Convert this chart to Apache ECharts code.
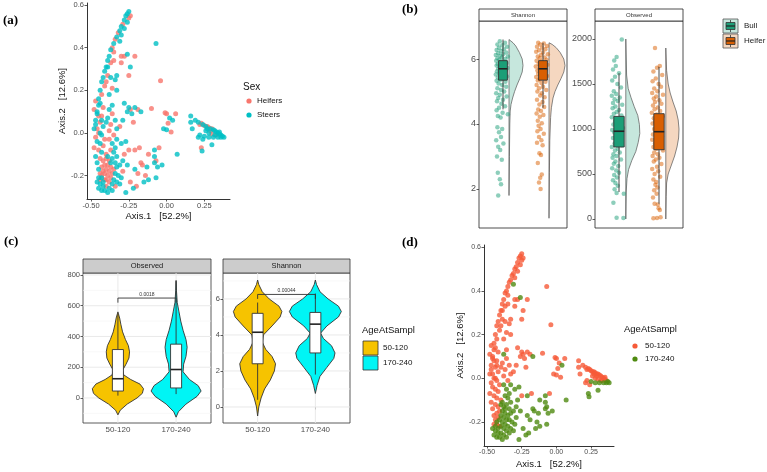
<!DOCTYPE html>
<html lang="en">
<head>
  <meta charset="UTF-8">
  <title>Microbiome diversity panels</title>
  <script src="https://cdn.jsdelivr.net/npm/echarts@6.0.0/dist/echarts.min.js"></script>
  <style>
    body { margin: 0; background: #fff; }
    #chart { width: 767px; height: 472px; }
  </style>
</head>
<body>
  <div id="chart"></div>
  <script>
    // ---- data ----
    const sexNames = ['Heifers', 'Steers']
    const ageGroups = ['50-120', '170-240']
    const cattleTypes = ['Bull', 'Heifer']

    // PCoA samples: [Axis.1, Axis.2, sex index, age index] (same ordination in (a) and (d))
    const pcoa = [
      [-0.25,0.57,1,0],[-0.26,0.56,1,0],[-0.24,0.55,0,0],[-0.27,0.55,1,0],[-0.25,0.54,0,0],[-0.28,0.53,1,0],
      [-0.26,0.52,1,0],[-0.29,0.51,0,0],[-0.30,0.50,1,0],[-0.28,0.49,1,0],[-0.31,0.48,1,0],[-0.32,0.47,0,0],
      [-0.30,0.46,1,0],[-0.33,0.45,1,0],[-0.34,0.44,0,0],[-0.31,0.43,1,1],[-0.35,0.42,1,0],[-0.36,0.40,0,0],
      [-0.37,0.39,1,0],[-0.35,0.38,0,0],[-0.38,0.36,1,0],[-0.39,0.34,1,0],[-0.37,0.33,0,0],[-0.40,0.31,1,0],
      [-0.41,0.29,1,0],[-0.39,0.27,0,0],[-0.42,0.26,1,0],[-0.43,0.24,1,0],[-0.41,0.22,0,0],[-0.44,0.20,1,0],
      [-0.43,0.18,0,0],[-0.45,0.16,1,0],[-0.44,0.14,1,0],[-0.42,0.12,0,0],[-0.46,0.10,1,0],[-0.45,0.08,0,0],
      [-0.43,0.06,1,0],[-0.47,0.04,1,0],[-0.46,0.02,0,0],[-0.44,0.00,1,0],
      [-0.35,0.34,0,0],[-0.30,0.36,0,0],[-0.28,0.36,0,0],[-0.26,0.37,1,1],[-0.21,0.36,0,0],[-0.30,0.33,0,0],
      [-0.24,0.31,1,0],[-0.25,0.27,0,0],[-0.07,0.42,1,0],[-0.04,0.245,0,0],[-0.39,0.31,1,0],[-0.37,0.26,1,0],
      [-0.34,0.25,1,0],[-0.33,0.27,1,0],[-0.40,0.24,0,0],[-0.36,0.21,0,0],[-0.33,0.20,1,0],[-0.38,0.18,1,0],
      [-0.47,0.15,0,0],[-0.45,0.13,1,0],[-0.48,0.11,0,0],[-0.46,0.09,1,0],[-0.43,0.08,0,0],[-0.47,0.06,1,0],
      [-0.44,0.05,0,0],[-0.42,0.03,1,0],[-0.48,0.02,1,0],[-0.45,0.00,0,0],[-0.43,-0.01,1,0],[-0.47,-0.02,0,0],
      [-0.41,-0.03,0,0],[-0.46,-0.04,1,0],[-0.44,-0.05,1,0],[-0.42,-0.06,0,0],[-0.48,-0.07,0,0],[-0.45,-0.08,0,0],
      [-0.43,-0.09,1,0],[-0.40,-0.10,0,0],[-0.47,-0.11,1,0],[-0.44,-0.12,0,0],[-0.42,-0.13,0,0],[-0.46,-0.14,1,0],
      [-0.41,-0.15,0,0],[-0.43,-0.16,0,0],[-0.45,-0.17,1,0],[-0.42,-0.18,0,0],[-0.44,-0.19,0,0],[-0.43,-0.21,1,0],
      [-0.41,-0.22,0,0],
      [-0.38,0.11,1,1],[-0.36,0.09,0,0],[-0.39,0.07,1,0],[-0.34,0.06,1,0],[-0.37,0.04,0,0],[-0.33,0.02,1,0],
      [-0.38,0.01,0,0],[-0.35,-0.01,0,0],[-0.40,0.05,1,0],[-0.36,0.13,1,0],
      [-0.28,0.14,1,0],[-0.25,0.12,1,0],[-0.21,0.12,1,0],[-0.26,0.10,1,0],[-0.23,0.09,1,0],[-0.17,0.10,1,1],
      [-0.19,0.11,0,0],[-0.24,0.11,0,0],[-0.10,0.115,0,0],[-0.22,0.05,0,0],[-0.29,0.06,1,0],[-0.31,0.03,0,0],
      [-0.02,0.02,1,0],[0.00,0.09,0,0],[0.02,0.07,1,0],[0.04,0.06,1,1],[0.06,0.09,0,0],[0.01,0.045,0,0],
      [0.00,0.015,1,0],[0.03,0.005,0,0],[-0.01,0.095,0,0],
      [0.16,0.08,1,0],[0.16,0.05,1,0],[0.17,0.02,1,0],[0.19,0.06,1,0],[0.21,0.05,1,0],[0.22,0.04,0,0],
      [0.23,0.045,0,0],[0.24,0.04,1,0],[0.25,0.035,0,0],[0.26,0.03,1,0],[0.27,0.03,0,0],[0.28,0.025,0,0],
      [0.29,0.02,1,0],[0.30,0.02,0,0],[0.31,0.015,1,0],[0.32,0.01,1,0],[0.33,0.005,1,0],[0.34,0.0,1,0],
      [0.35,-0.005,1,0],[0.36,-0.01,1,0],[0.37,-0.015,1,1],[0.26,0.01,1,0],[0.28,0.0,1,0],[0.30,-0.005,0,0],
      [0.32,-0.01,1,0],[0.34,-0.02,1,1],[0.36,-0.02,1,1],[0.31,-0.02,1,1],[0.28,-0.02,1,1],[0.25,-0.015,1,1],
      [0.22,-0.01,1,0],[0.21,-0.02,1,0],[0.24,-0.03,1,0],[0.29,0.01,0,0],[0.33,-0.01,0,0],[0.27,0.02,1,0],
      [0.35,0.005,1,0],[0.38,-0.02,1,1],[0.23,-0.07,0,1],[0.235,-0.085,1,1],[0.30,-0.055,1,1],[0.07,-0.10,1,1],
      [-0.30,-0.05,1,1],[-0.27,-0.04,1,1],[-0.21,-0.08,0,1],[-0.18,-0.07,0,0],[-0.08,-0.08,1,1],[-0.08,-0.11,1,1],
      [-0.07,-0.13,0,1],[-0.08,-0.14,1,1],[-0.17,-0.14,0,1],[-0.16,-0.15,0,1],[-0.13,-0.16,1,1],[-0.03,-0.15,1,1],
      [-0.06,-0.16,1,1],[-0.29,-0.13,1,1],[-0.26,-0.15,1,1],[-0.21,-0.17,1,1],[-0.19,-0.19,0,1],[-0.07,-0.21,1,1],
      [-0.12,-0.22,1,1],[-0.15,-0.23,1,1],[-0.20,-0.25,0,1],[-0.22,-0.26,1,1],[-0.27,-0.28,1,1],[-0.24,-0.23,0,1],
      [-0.14,-0.20,0,1],[-0.05,-0.07,0,0],[-0.12,-0.10,0,1],[-0.25,-0.08,0,0],[-0.33,-0.03,1,1],[-0.28,-0.10,0,1],
      [-0.40,-0.12,0,1],[-0.38,-0.13,0,1],[-0.36,-0.12,1,1],[-0.34,-0.14,1,1],[-0.39,-0.15,0,1],[-0.37,-0.16,0,1],
      [-0.35,-0.17,0,1],[-0.33,-0.16,1,1],[-0.40,-0.17,0,1],[-0.38,-0.18,0,1],[-0.36,-0.19,0,1],[-0.34,-0.19,1,1],
      [-0.32,-0.20,1,1],[-0.41,-0.19,0,1],[-0.39,-0.20,0,1],[-0.37,-0.21,0,1],[-0.35,-0.22,1,1],[-0.33,-0.23,1,1],
      [-0.42,-0.23,1,1],[-0.40,-0.22,0,1],[-0.38,-0.23,0,1],[-0.36,-0.24,1,1],[-0.44,-0.24,1,1],[-0.42,-0.25,1,1],
      [-0.40,-0.25,0,1],[-0.38,-0.26,1,1],[-0.45,-0.26,1,1],[-0.43,-0.27,1,1],[-0.41,-0.27,1,1],[-0.44,-0.22,0,1],
      [-0.46,-0.23,1,1],[-0.39,-0.28,1,1],[-0.36,-0.27,1,1],[-0.34,-0.25,0,1],[-0.31,-0.24,1,1],[-0.30,-0.21,1,1],
      [-0.37,-0.14,1,1],[-0.35,-0.09,1,1],[-0.37,-0.08,0,1],[-0.39,-0.11,1,1],[-0.33,-0.11,1,1],[-0.31,-0.15,1,1],
      [-0.29,-0.18,0,1],[-0.43,-0.20,0,1],[-0.45,-0.21,1,0],[-0.36,-0.05,1,1],[-0.38,-0.03,0,1],[-0.34,-0.07,1,1]
    ]
    const pcoaXTicks = [-0.5, -0.25, 0, 0.25]
    const pcoaYTicks = [-0.2, 0, 0.2, 0.4, 0.6]

    // (b) jittered samples [x position, value]
    const shannonBull = [
      [0.92,6.55],[1.05,6.5],[0.86,6.45],[0.98,6.42],[1.10,6.38],[0.90,6.35],[1.02,6.3],[0.84,6.28],[0.95,6.25],
      [1.08,6.2],[0.88,6.18],[1.00,6.15],[0.82,6.12],[0.93,6.1],[1.12,6.08],[0.97,6.05],[0.86,6.02],[1.06,6.0],
      [0.91,5.98],[0.83,5.95],[1.03,5.92],[0.95,5.9],[1.09,5.88],[0.87,5.85],[0.99,5.82],[0.84,5.8],[1.04,5.78],
      [0.92,5.75],[1.11,5.72],[0.88,5.7],[0.96,5.68],[1.07,5.65],[0.85,5.62],[1.00,5.6],[0.90,5.57],[1.05,5.55],
      [0.82,5.52],[0.94,5.5],[1.10,5.46],[0.87,5.43],[1.01,5.4],[0.93,5.36],[0.84,5.33],[1.06,5.3],[0.89,5.25],
      [0.98,5.2],[1.08,5.15],[0.86,5.1],[0.95,5.05],[1.03,5.0],[0.83,4.95],[0.92,4.9],[1.09,4.85],[0.88,4.8],
      [1.00,4.75],[0.85,4.7],[0.96,4.62],[1.05,4.55],[0.90,4.5],[0.84,4.42],[0.99,4.35],[1.12,4.3],[0.87,4.25],
      [0.94,4.2],[0.86,3.9],[0.98,3.85],[0.90,3.75],[0.95,3.6],[0.83,3.5],[1.01,3.4],[0.88,3.3],[0.93,3.2],
      [0.85,3.0],[0.97,2.9],[0.87,2.5],[0.92,2.3],[0.95,2.15],[0.88,1.8]
    ]
    const shannonHeifer = [
      [1.88,6.5],[2.02,6.48],[1.93,6.45],[2.10,6.4],[1.85,6.38],[1.98,6.35],[2.06,6.3],[1.90,6.27],[1.83,6.22],
      [2.00,6.2],[2.12,6.15],[1.95,6.12],[1.87,6.08],[2.04,6.05],[1.92,6.02],[2.09,5.98],[1.84,5.95],[1.97,5.92],
      [2.03,5.88],[1.89,5.85],[2.11,5.82],[1.94,5.8],[1.82,5.77],[2.01,5.74],[1.91,5.7],[2.07,5.68],[1.86,5.65],
      [1.99,5.62],[2.05,5.58],[1.88,5.55],[1.95,5.52],[2.10,5.48],[1.83,5.45],[2.02,5.42],[1.92,5.38],[1.87,5.34],
      [2.06,5.3],[1.96,5.26],[1.84,5.2],[2.00,5.15],[1.90,5.1],[2.08,5.05],[1.86,5.0],[1.97,4.95],[1.93,4.88],
      [2.04,4.82],[1.85,4.75],[1.99,4.68],[1.91,4.6],[2.03,4.52],[1.88,4.45],[1.95,4.4],[1.84,4.32],[2.01,4.28],
      [1.92,4.22],[1.87,4.1],[1.97,4.02],[1.89,3.95],[1.94,3.85],[1.86,3.78],[2.02,3.7],[1.90,3.6],[1.96,3.5],
      [1.85,3.42],[1.99,3.35],[1.91,3.1],[1.95,3.05],[1.87,2.8],[1.97,2.45],[1.93,2.35],[1.90,2.2],[1.94,2.0]
    ]
    const observedBull = [
      [1.07,1995],[0.94,1800],[0.88,1760],[0.92,1700],[0.85,1660],[1.00,1620],[0.90,1580],[0.83,1540],[0.96,1500],
      [1.05,1460],[0.87,1420],[0.93,1390],[0.82,1370],[1.02,1350],[0.89,1330],[0.97,1310],[0.85,1290],[1.08,1270],
      [0.91,1250],[0.84,1230],[1.00,1210],[0.94,1190],[0.87,1170],[1.06,1150],[0.82,1130],[0.96,1110],[0.90,1090],
      [1.03,1070],[0.86,1050],[0.93,1030],[1.10,1010],[0.83,990],[0.99,975],[0.88,960],[1.04,940],[0.92,920],
      [0.85,900],[1.01,880],[0.95,860],[0.89,840],[1.07,820],[0.82,800],[0.97,780],[0.90,760],[1.02,740],
      [0.86,720],[0.94,700],[0.84,680],[1.05,660],[0.91,640],[0.87,615],[0.98,590],[0.83,565],[0.93,540],
      [1.00,515],[0.88,490],[0.95,460],[0.85,430],[0.91,400],[0.97,370],[0.89,330],[0.94,290],[1.12,280],
      [0.86,180],[0.94,15],[1.11,12]
    ]
    const observedHeifer = [
      [1.90,1900],[2.02,1700],[1.95,1680],[1.86,1640],[2.08,1600],[1.92,1560],[1.84,1530],[1.99,1500],[2.05,1470],
      [1.88,1450],[1.96,1420],[1.83,1400],[2.10,1380],[1.93,1360],[1.87,1340],[2.01,1320],[1.90,1300],[2.06,1280],
      [1.85,1260],[1.97,1240],[1.89,1220],[2.03,1200],[1.82,1180],[1.94,1160],[2.09,1140],[1.87,1120],[2.00,1100],
      [1.91,1080],[1.84,1060],[2.05,1040],[1.95,1020],[1.88,1000],[2.02,980],[1.92,960],[1.85,940],[2.07,920],
      [1.96,900],[1.83,880],[1.99,860],[1.90,840],[2.04,820],[1.86,800],[1.94,780],[2.10,760],[1.88,740],
      [1.97,720],[1.84,700],[2.01,680],[1.92,660],[1.87,640],[2.06,610],[1.95,580],[1.83,555],[1.98,530],
      [1.89,500],[2.03,470],[1.86,440],[1.93,410],[1.91,380],[1.96,350],[1.88,320],[1.94,280],[1.85,240],
      [1.89,170],[1.97,160],[1.99,120],[2.02,100],[1.86,8],[1.95,12],[2.04,20]
    ]
    // half violin outlines [value, half-width], boxes [lo, q1, median, q3, hi]
    const shannonHalf = [
      [[1.8,0],[3.0,0.01],[4.0,0.02],[4.4,0.03],[4.6,0.05],[4.8,0.09],[5.0,0.14],[5.2,0.2],[5.4,0.27],[5.6,0.33],[5.8,0.35],[6.0,0.33],[6.2,0.26],[6.4,0.17],[6.5,0.1],[6.6,0]],
      [[1.1,0],[2.5,0.01],[3.5,0.02],[4.2,0.04],[4.5,0.06],[4.8,0.1],[5.0,0.15],[5.2,0.22],[5.4,0.3],[5.6,0.37],[5.8,0.4],[6.0,0.37],[6.2,0.28],[6.35,0.18],[6.45,0.08],[6.5,0]]
    ]
    const observedHalf = [
      [[0,0],[300,0.01],[450,0.03],[550,0.07],[650,0.15],[750,0.25],[850,0.31],[950,0.35],[1050,0.34],[1150,0.3],[1250,0.21],[1350,0.13],[1450,0.06],[1600,0.02],[1800,0.01],[2000,0]],
      [[0,0],[250,0.01],[400,0.02],[500,0.06],[600,0.14],[700,0.22],[800,0.28],[900,0.32],[1000,0.33],[1100,0.31],[1200,0.26],[1300,0.18],[1400,0.11],[1500,0.06],[1650,0.02],[1900,0]]
    ]
    const shannonBoxB = [[4.45, 5.35, 5.7, 5.95, 6.6], [4.5, 5.35, 5.7, 5.95, 6.5]]
    const observedBoxB = [[300, 800, 975, 1140, 1620], [170, 770, 970, 1170, 1690]]

    // (c) violins [value, half-width], boxes, significance brackets
    const observedViolin = [
      [[-110,0],[-80,0.04],[-40,0.16],[0,0.33],[30,0.42],[60,0.44],[90,0.38],[120,0.22],[150,0.1],[180,0.08],[220,0.14],[260,0.19],[300,0.2],[340,0.18],[380,0.13],[430,0.08],[480,0.05],[520,0.03],[560,0]],
      [[-125,0],[-90,0.04],[-40,0.17],[10,0.36],[45,0.43],[80,0.38],[120,0.23],[170,0.12],[220,0.13],[270,0.17],[330,0.19],[380,0.17],[440,0.12],[500,0.08],[560,0.05],[620,0.02],[700,0.006],[765,0]]
    ]
    const shannonViolin = [
      [[-0.5,0],[0,0.02],[0.5,0.06],[1.0,0.12],[1.5,0.22],[2.0,0.29],[2.4,0.31],[2.8,0.25],[3.2,0.14],[3.6,0.08],[4.0,0.1],[4.5,0.25],[5.0,0.39],[5.3,0.42],[5.6,0.37],[6.0,0.2],[6.4,0.08],[6.8,0.02],[7.05,0]],
      [[0.75,0],[1.2,0.03],[1.7,0.08],[2.2,0.2],[2.7,0.32],[3.0,0.34],[3.4,0.28],[3.8,0.14],[4.1,0.09],[4.5,0.2],[5.0,0.4],[5.3,0.45],[5.6,0.4],[6.0,0.22],[6.4,0.08],[6.8,0.02],[7.05,0]]
    ]
    const observedBoxC = [[15, 45, 125, 315, 545], [25, 65, 185, 350, 760]]
    const shannonBoxC = [[0.4, 2.4, 4.15, 5.2, 5.8], [1.8, 3.0, 4.6, 5.25, 6.3]]
    const observedSig = [620, 650, '0.0018']
    const shannonSig = [6.0, 6.25, '0.00044']
    const observedTicksC = [0, 200, 400, 600, 800]
    const observedMinorC = [-100, 100, 300, 500, 700]
    const shannonTicksC = [0, 2, 4, 6]
    const shannonMinorC = [1, 3, 5, 7]

    // ---- styling ----
    const sexColors = ['#F8766D', '#00BFC4']
    const ageColorsPcoa = ['#F65A38', '#4F8A10']
    const ageColorsViolin = ['#F6C300', '#00F5F5']
    const typeColors = ['#1B9E77', '#D95F02']
    const typeLight = ['rgba(27,158,119,0.25)', 'rgba(217,95,2,0.25)']
    const sans = 'Liberation Sans'
    const tickGrey = '#4D4D4D'

    function valueAxis(grid, min, max, ticks, fmt, fontSize, opts) {
      return Object.assign({
        type: 'value', gridIndex: grid, min: min, max: max,
        axisLine: { show: false },
        axisTick: { show: true, length: 2.5, customValues: ticks, lineStyle: { color: '#333', width: 0.8 } },
        axisLabel: { customValues: ticks, formatter: fmt, color: tickGrey, fontSize: fontSize, fontFamily: sans, margin: 3 },
        splitLine: { show: false }
      }, opts || {})
    }
    const hiddenX = (grid) => ({ type: 'value', gridIndex: grid, min: 0.4, max: 2.6, show: false })
    const catX = (grid) => valueAxis(grid, 0.4, 2.6, [1, 2], v => ageGroups[Math.round(v) - 1], 8, {})

    function scatterSeries(name, xi, data, color, z) {
      return {
        type: 'scatter', name: name, xAxisIndex: xi, yAxisIndex: xi, data: data,
        symbolSize: 5, itemStyle: { color: color }, z: z, silent: true
      }
    }

    function halfViolin(ax, profiles, offset) {
      return {
        type: 'custom', xAxisIndex: ax, yAxisIndex: ax, z: 2, silent: true,
        data: profiles.map((p, i) => [i + 1, p[0][0]]),
        renderItem(params, api) {
          const prof = profiles[params.dataIndex]
          const c = api.value(0) + offset
          const pts = [api.coord([c, prof[0][0]])]
          prof.forEach(p => pts.push(api.coord([c + p[1], p[0]])))
          pts.push(api.coord([c, prof[prof.length - 1][0]]))
          return { type: 'polygon', shape: { points: pts },
            style: { fill: typeLight[params.dataIndex], stroke: '#555', lineWidth: 0.7 } }
        }
      }
    }

    function fullViolin(ax, profiles) {
      return {
        type: 'custom', xAxisIndex: ax, yAxisIndex: ax, z: 3, silent: true,
        data: profiles.map((p, i) => [i + 1, p[0][0]]),
        renderItem(params, api) {
          const prof = profiles[params.dataIndex]
          const c = api.value(0)
          const right = prof.map(p => api.coord([c + p[1], p[0]]))
          const left = prof.map(p => api.coord([c - p[1], p[0]])).reverse()
          return { type: 'polygon', shape: { points: right.concat(left) },
            style: { fill: ageColorsViolin[params.dataIndex], stroke: '#333', lineWidth: 0.9 } }
        }
      }
    }

    function boxSeries(ax, boxes, hw, fills, z) {
      return {
        type: 'custom', xAxisIndex: ax, yAxisIndex: ax, z: z, silent: true,
        data: boxes.map((b, i) => [i + 1, b[2]]),
        renderItem(params, api) {
          const b = boxes[params.dataIndex]
          const x = api.value(0)
          const lo = api.coord([x, b[0]]), q1 = api.coord([x, b[1]]), q3 = api.coord([x, b[3]]), hi = api.coord([x, b[4]])
          const tl = api.coord([x - hw, b[3]]), br = api.coord([x + hw, b[1]])
          const ml = api.coord([x - hw, b[2]]), mr = api.coord([x + hw, b[2]])
          const line = { stroke: '#333', lineWidth: 0.9 }
          return { type: 'group', children: [
            { type: 'line', shape: { x1: lo[0], y1: lo[1], x2: q1[0], y2: q1[1] }, style: line },
            { type: 'line', shape: { x1: q3[0], y1: q3[1], x2: hi[0], y2: hi[1] }, style: line },
            { type: 'rect', shape: { x: tl[0], y: tl[1], width: br[0] - tl[0], height: br[1] - tl[1] },
              style: { fill: fills[params.dataIndex], stroke: '#333', lineWidth: 0.9 } },
            { type: 'line', shape: { x1: ml[0], y1: ml[1], x2: mr[0], y2: mr[1] }, style: { stroke: '#222', lineWidth: 1.6 } }
          ] }
        }
      }
    }

    function sigSeries(ax, sig) {
      return {
        type: 'custom', xAxisIndex: ax, yAxisIndex: ax, z: 5, silent: true,
        data: [[1.5, sig[1]]],
        renderItem(params, api) {
          const a = api.coord([1, sig[0]]), b = api.coord([1, sig[1]]), c = api.coord([2, sig[1]]), d = api.coord([2, sig[0]])
          const m = api.coord([1.5, sig[1]])
          return { type: 'group', children: [
            { type: 'polyline', shape: { points: [a, b, c, d] }, style: { stroke: '#333', lineWidth: 0.9, fill: null } },
            { type: 'text', x: m[0], y: m[1] - 1, style: { text: sig[2], fontSize: 5, fontFamily: sans, fill: '#333', align: 'center', verticalAlign: 'bottom' } }
          ] }
        }
      }
    }

    function gridLines(ax, values, horizontal, color, width) {
      return {
        type: 'custom', xAxisIndex: ax, yAxisIndex: ax, z: 1, silent: true,
        data: values.map(v => horizontal ? [1.5, v] : [v, 0]),
        renderItem(params, api) {
          const cs = params.coordSys
          const style = { stroke: color, lineWidth: width }
          if (horizontal) {
            const y = api.coord([1.5, api.value(1)])[1]
            return { type: 'line', shape: { x1: cs.x, y1: y, x2: cs.x + cs.width, y2: y }, style: style }
          }
          const x = api.coord([api.value(0), 0])[0]
          return { type: 'line', shape: { x1: x, y1: cs.y, x2: x, y2: cs.y + cs.height }, style: style }
        }
      }
    }

    const pcoaAxisLine = { show: true, onZero: false, lineStyle: { color: '#333', width: 1 } }
    const fmt2 = v => v.toFixed(2)
    const fmt1 = v => v.toFixed(1)
    const nameStyle = { color: '#111', fontSize: 9.5, fontFamily: sans }

    const bordered = { show: true, borderColor: '#222', borderWidth: 0.8, backgroundColor: '#fff' }
    const borderedC = { show: true, borderColor: '#333', borderWidth: 0.8, backgroundColor: '#fff' }

    const chart = echarts.init(document.getElementById('chart'))
    const option = {
      animation: false,
      backgroundColor: '#fff',
      grid: [
        { left: 87, top: 3, width: 143, height: 196 },
        Object.assign({ left: 479, top: 21, width: 88, height: 207 }, bordered),
        Object.assign({ left: 595, top: 21, width: 88, height: 207 }, bordered),
        Object.assign({ left: 83, top: 273, width: 128, height: 150 }, borderedC),
        Object.assign({ left: 223, top: 273, width: 127, height: 150 }, borderedC),
        { left: 484, top: 245, width: 130, height: 201 }
      ],
      xAxis: [
        valueAxis(0, -0.527, 0.42, pcoaXTicks, fmt2, 7.5, { axisLine: pcoaAxisLine, name: 'Axis.1   [52.2%]', nameLocation: 'middle', nameGap: 8, nameTextStyle: nameStyle }),
        hiddenX(1),
        hiddenX(2),
        catX(3),
        catX(4),
        valueAxis(5, -0.522, 0.415, pcoaXTicks, fmt2, 7, { axisLine: pcoaAxisLine, name: 'Axis.1   [52.2%]', nameLocation: 'middle', nameGap: 13, nameTextStyle: nameStyle })
      ],
      yAxis: [
        valueAxis(0, -0.31, 0.61, pcoaYTicks, fmt1, 7.5, { axisLine: pcoaAxisLine, name: 'Axis.2   [12.6%]', nameLocation: 'middle', nameGap: 17, nameTextStyle: nameStyle }),
        valueAxis(1, 0.8, 7.17, [2, 4, 6], v => String(v), 9, {}),
        valueAxis(2, -100, 2200, [0, 500, 1000, 1500, 2000], v => String(v), 9, {}),
        valueAxis(3, -163, 813, observedTicksC, v => String(v), 7.5, {}),
        valueAxis(4, -0.89, 7.44, shannonTicksC, v => String(v), 7.5, {}),
        valueAxis(5, -0.31, 0.61, pcoaYTicks, fmt1, 7, { axisLine: pcoaAxisLine, name: 'Axis.2   [12.6%]', nameLocation: 'middle', nameGap: 17, nameTextStyle: nameStyle })
      ],
      series: [
        // (a) PCoA by sex
        scatterSeries(sexNames[0], 0, pcoa.filter(p => p[2] === 0).map(p => [p[0], p[1]]), sexColors[0], 2),
        scatterSeries(sexNames[1], 0, pcoa.filter(p => p[2] === 1).map(p => [p[0], p[1]]), sexColors[1], 3),
        // (b) raincloud plots
        halfViolin(1, shannonHalf, 0.15),
        scatterSeries(cattleTypes[0], 1, shannonBull, typeColors[0], 3),
        scatterSeries(cattleTypes[1], 1, shannonHeifer, typeColors[1], 3),
        boxSeries(1, shannonBoxB, 0.11, typeColors, 4),
        halfViolin(2, observedHalf, 0.17),
        scatterSeries(cattleTypes[0], 2, observedBull, typeColors[0], 3),
        scatterSeries(cattleTypes[1], 2, observedHeifer, typeColors[1], 3),
        boxSeries(2, observedBoxB, 0.13, typeColors, 4),
        // (c) violins with boxes
        gridLines(3, observedMinorC, true, '#F3F3F3', 0.6),
        gridLines(3, observedTicksC, true, '#E6E6E6', 0.9),
        gridLines(3, [1, 2], false, '#E6E6E6', 0.9),
        fullViolin(3, observedViolin),
        boxSeries(3, observedBoxC, 0.095, ['#fff', '#fff'], 4),
        sigSeries(3, observedSig),
        gridLines(4, shannonMinorC, true, '#F3F3F3', 0.6),
        gridLines(4, shannonTicksC, true, '#E6E6E6', 0.9),
        gridLines(4, [1, 2], false, '#E6E6E6', 0.9),
        fullViolin(4, shannonViolin),
        boxSeries(4, shannonBoxC, 0.095, ['#fff', '#fff'], 4),
        sigSeries(4, shannonSig),
        // (d) PCoA by age
        scatterSeries(ageGroups[0], 5, pcoa.filter(p => p[3] === 0).map(p => [p[0], p[1]]), ageColorsPcoa[0], 2),
        scatterSeries(ageGroups[1], 5, pcoa.filter(p => p[3] === 1).map(p => [p[0], p[1]]), ageColorsPcoa[1], 3)
      ],
      graphic: [
        // panel letters
        { type: 'text', left: 3, top: 14, style: { text: '(a)', font: 'bold 13px "Liberation Serif"', fill: '#000' } },
        { type: 'text', left: 402, top: 3, style: { text: '(b)', font: 'bold 13px "Liberation Serif"', fill: '#000' } },
        { type: 'text', left: 4, top: 235, style: { text: '(c)', font: 'bold 13px "Liberation Serif"', fill: '#000' } },
        { type: 'text', left: 402, top: 236, style: { text: '(d)', font: 'bold 13px "Liberation Serif"', fill: '#000' } },
        // (a) legend
        { type: 'text', x: 243, y: 87, style: { text: 'Sex', fontSize: 10, fontFamily: sans, fill: '#111', verticalAlign: 'middle' } },
        { type: 'circle', shape: { cx: 249, cy: 101, r: 2.6 }, style: { fill: sexColors[0] } },
        { type: 'text', x: 257, y: 101, style: { text: sexNames[0], fontSize: 8, fontFamily: sans, fill: '#111', verticalAlign: 'middle' } },
        { type: 'circle', shape: { cx: 249, cy: 115, r: 2.6 }, style: { fill: sexColors[1] } },
        { type: 'text', x: 257, y: 115, style: { text: sexNames[1], fontSize: 8, fontFamily: sans, fill: '#111', verticalAlign: 'middle' } },
        // (b) strips
        { type: 'rect', shape: { x: 479, y: 9, width: 88, height: 12 }, style: { fill: '#fff', stroke: '#222', lineWidth: 0.8 } },
        { type: 'text', x: 523, y: 15, style: { text: 'Shannon', fontSize: 6, fontFamily: sans, fill: '#333', align: 'center', verticalAlign: 'middle' } },
        { type: 'rect', shape: { x: 595, y: 9, width: 88, height: 12 }, style: { fill: '#fff', stroke: '#222', lineWidth: 0.8 } },
        { type: 'text', x: 639, y: 15, style: { text: 'Observed', fontSize: 6, fontFamily: sans, fill: '#333', align: 'center', verticalAlign: 'middle' } },
        // (b) legend
        { type: 'rect', shape: { x: 723, y: 19, width: 15, height: 14 }, style: { fill: typeLight[0], stroke: '#555', lineWidth: 0.8 } },
        { type: 'line', shape: { x1: 730.5, y1: 20, x2: 730.5, y2: 32 }, style: { stroke: '#333', lineWidth: 0.8 } },
        { type: 'rect', shape: { x: 726, y: 22.5, width: 9, height: 7 }, style: { fill: typeColors[0], stroke: '#333', lineWidth: 0.8 } },
        { type: 'line', shape: { x1: 726, y1: 26, x2: 735, y2: 26 }, style: { stroke: '#222', lineWidth: 1.2 } },
        { type: 'rect', shape: { x: 723, y: 34, width: 15, height: 14 }, style: { fill: typeLight[1], stroke: '#555', lineWidth: 0.8 } },
        { type: 'line', shape: { x1: 730.5, y1: 35, x2: 730.5, y2: 47 }, style: { stroke: '#333', lineWidth: 0.8 } },
        { type: 'rect', shape: { x: 726, y: 37.5, width: 9, height: 7 }, style: { fill: typeColors[1], stroke: '#333', lineWidth: 0.8 } },
        { type: 'line', shape: { x1: 726, y1: 41, x2: 735, y2: 41 }, style: { stroke: '#222', lineWidth: 1.2 } },
        { type: 'text', x: 744, y: 26, style: { text: cattleTypes[0], fontSize: 8, fontFamily: sans, fill: '#222', verticalAlign: 'middle' } },
        { type: 'text', x: 744, y: 41, style: { text: cattleTypes[1], fontSize: 8, fontFamily: sans, fill: '#222', verticalAlign: 'middle' } },
        // (c) strips
        { type: 'rect', shape: { x: 83, y: 259, width: 128, height: 14 }, style: { fill: '#CCCCCC', stroke: '#333', lineWidth: 0.8 } },
        { type: 'text', x: 147, y: 266, style: { text: 'Observed', fontSize: 7.5, fontFamily: sans, fill: '#1A1A1A', align: 'center', verticalAlign: 'middle' } },
        { type: 'rect', shape: { x: 223, y: 259, width: 127, height: 14 }, style: { fill: '#CCCCCC', stroke: '#333', lineWidth: 0.8 } },
        { type: 'text', x: 286.5, y: 266, style: { text: 'Shannon', fontSize: 7.5, fontFamily: sans, fill: '#1A1A1A', align: 'center', verticalAlign: 'middle' } },
        // (c) legend
        { type: 'text', x: 362, y: 330, style: { text: 'AgeAtSampl', fontSize: 9.5, fontFamily: sans, fill: '#111', verticalAlign: 'middle' } },
        { type: 'rect', shape: { x: 363, y: 341, width: 15, height: 14 }, style: { fill: ageColorsViolin[0], stroke: '#333', lineWidth: 0.8 } },
        { type: 'rect', shape: { x: 363, y: 356, width: 15, height: 14 }, style: { fill: ageColorsViolin[1], stroke: '#333', lineWidth: 0.8 } },
        { type: 'text', x: 383, y: 348, style: { text: ageGroups[0], fontSize: 8, fontFamily: sans, fill: '#111', verticalAlign: 'middle' } },
        { type: 'text', x: 383, y: 363, style: { text: ageGroups[1], fontSize: 8, fontFamily: sans, fill: '#111', verticalAlign: 'middle' } },
        // (d) legend
        { type: 'text', x: 624, y: 329, style: { text: 'AgeAtSampl', fontSize: 9.5, fontFamily: sans, fill: '#111', verticalAlign: 'middle' } },
        { type: 'circle', shape: { cx: 635, cy: 346, r: 2.6 }, style: { fill: ageColorsPcoa[0] } },
        { type: 'text', x: 645, y: 346, style: { text: ageGroups[0], fontSize: 8, fontFamily: sans, fill: '#111', verticalAlign: 'middle' } },
        { type: 'circle', shape: { cx: 635, cy: 359, r: 2.6 }, style: { fill: ageColorsPcoa[1] } },
        { type: 'text', x: 645, y: 359, style: { text: ageGroups[1], fontSize: 8, fontFamily: sans, fill: '#111', verticalAlign: 'middle' } }
      ]
    }
    // translucent jitter points in (b)
    option.series.forEach(s => {
      if (s.type === 'scatter' && (s.xAxisIndex === 1 || s.xAxisIndex === 2)) {
        s.itemStyle = { color: s.itemStyle.color, opacity: 0.5 }
        s.symbolSize = 4.5
      }
    })
    chart.setOption(option)
  </script>
</body>
</html>
